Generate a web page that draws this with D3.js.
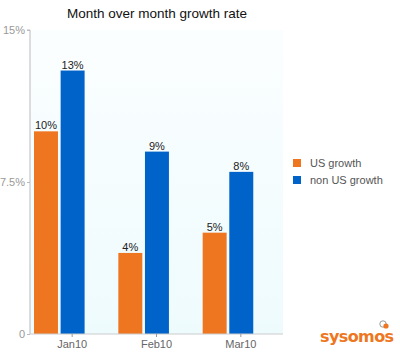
<!DOCTYPE html>
<html><head><meta charset="utf-8">
<script src="https://cdn.jsdelivr.net/npm/d3@7"></script>
<style>body{margin:0;background:#fff}svg{display:block}</style>
</head><body>
<script>
const months = ["Jan10", "Feb10", "Mar10"];
const seriesNames = ["US growth", "non US growth"];
const usGrowth = [10, 4, 5];
const nonUsGrowth = [13, 9, 8];
const yTicks = [0, 7.5, 15];
const yTickLabels = ["0", "7.5%", "15%"];
const colors = ["#ee7621", "#0063c9"];

const W = 400, H = 355;
const m = {left: 30, right: 117, top: 30, bottom: 21};
const svg = d3.select("body").append("svg").attr("width", W).attr("height", H)
  .style("font-family", "'Liberation Sans', Arial, sans-serif");

const defs = svg.append("defs");
const g1 = defs.append("linearGradient").attr("id","bg").attr("x1",0).attr("y1",0).attr("x2",0).attr("y2",1);
g1.append("stop").attr("offset","0%").attr("stop-color","#fbfeff");
g1.append("stop").attr("offset","100%").attr("stop-color","#eefbfd");

const x = d3.scaleBand().domain(months).range([m.left, W - m.right]);
const y = d3.scaleLinear().domain([0, 15]).range([H - m.bottom, m.top]);

svg.append("rect").attr("x", m.left).attr("y", m.top)
  .attr("width", W - m.right - m.left).attr("height", H - m.bottom - m.top)
  .attr("fill", "url(#bg)");

svg.append("text").attr("x", 157).attr("y", 18).attr("text-anchor","middle")
  .attr("font-size", 13.5).attr("fill","#111").text("Month over month growth rate");

const inner = d3.scaleBand().domain([0,1]).range([0, x.bandwidth()*0.6]).paddingInner(0.1);
const series = [usGrowth, nonUsGrowth];
series.forEach((vals, si) => {
  const gs = svg.append("g");
  gs.selectAll("rect").data(vals).join("rect")
    .attr("x", (d,i) => x(months[i]) + 4 + inner(si))
    .attr("width", inner.bandwidth())
    .attr("y", d => y(d))
    .attr("height", d => y(0) - y(d))
    .attr("fill", colors[si]);
  gs.selectAll("text").data(vals).join("text")
    .attr("x", (d,i) => x(months[i]) + 4 + inner(si) + inner.bandwidth()/2)
    .attr("y", d => y(d) - 2)
    .attr("text-anchor","middle").attr("font-size", 11).attr("fill","#222")
    .text(d => d + "%");
});

// Y axis
const ya = svg.append("g").attr("transform", `translate(${m.left},0)`)
  .call(d3.axisLeft(y).tickValues(yTicks).tickFormat((d,i) => yTickLabels[i]).tickSize(3).tickPadding(2));
ya.select(".domain").attr("stroke","#bbb").attr("d", `M-3,${m.top}H0V${H-m.bottom}`);
ya.selectAll(".tick line").attr("stroke","#bbb");
ya.selectAll("text").attr("fill","#999").attr("font-size", 11).attr("font-family","'Liberation Sans', Arial, sans-serif");

// X axis
const xa = svg.append("g").attr("transform", `translate(0,${H - m.bottom})`)
  .call(d3.axisBottom(x).tickSize(3).tickPadding(3));
xa.select(".domain").attr("stroke","#ccc").attr("d", `M${m.left},0H${W-m.right}`);
xa.selectAll(".tick line").attr("stroke","#999");
xa.selectAll("text").attr("fill","#666").attr("font-size", 11).attr("font-family","'Liberation Sans', Arial, sans-serif");

// Legend
const lg = svg.append("g").attr("transform","translate(293,159)");
seriesNames.forEach((n, i) => {
  lg.append("rect").attr("x",0).attr("y", i*17).attr("width",8).attr("height",8).attr("fill",colors[i]);
  lg.append("text").attr("x",17).attr("y", i*17+8).attr("font-size",11).attr("fill","#555").text(n);
});

// Logo
svg.append("text").attr("x", 320).attr("y", 342).attr("font-size", 16).attr("font-weight","bold")
  .attr("fill","#ee7621").attr("font-family","'DejaVu Sans', sans-serif").attr("letter-spacing", -0.6).text("sysomos");
svg.append("circle").attr("cx", 383).attr("cy", 324).attr("r", 3.2).attr("fill","none").attr("stroke","#999").attr("stroke-width",1);
svg.append("circle").attr("cx", 386).attr("cy", 326).attr("r", 2.6).attr("fill","#ee7621");
</script>
</body></html>
